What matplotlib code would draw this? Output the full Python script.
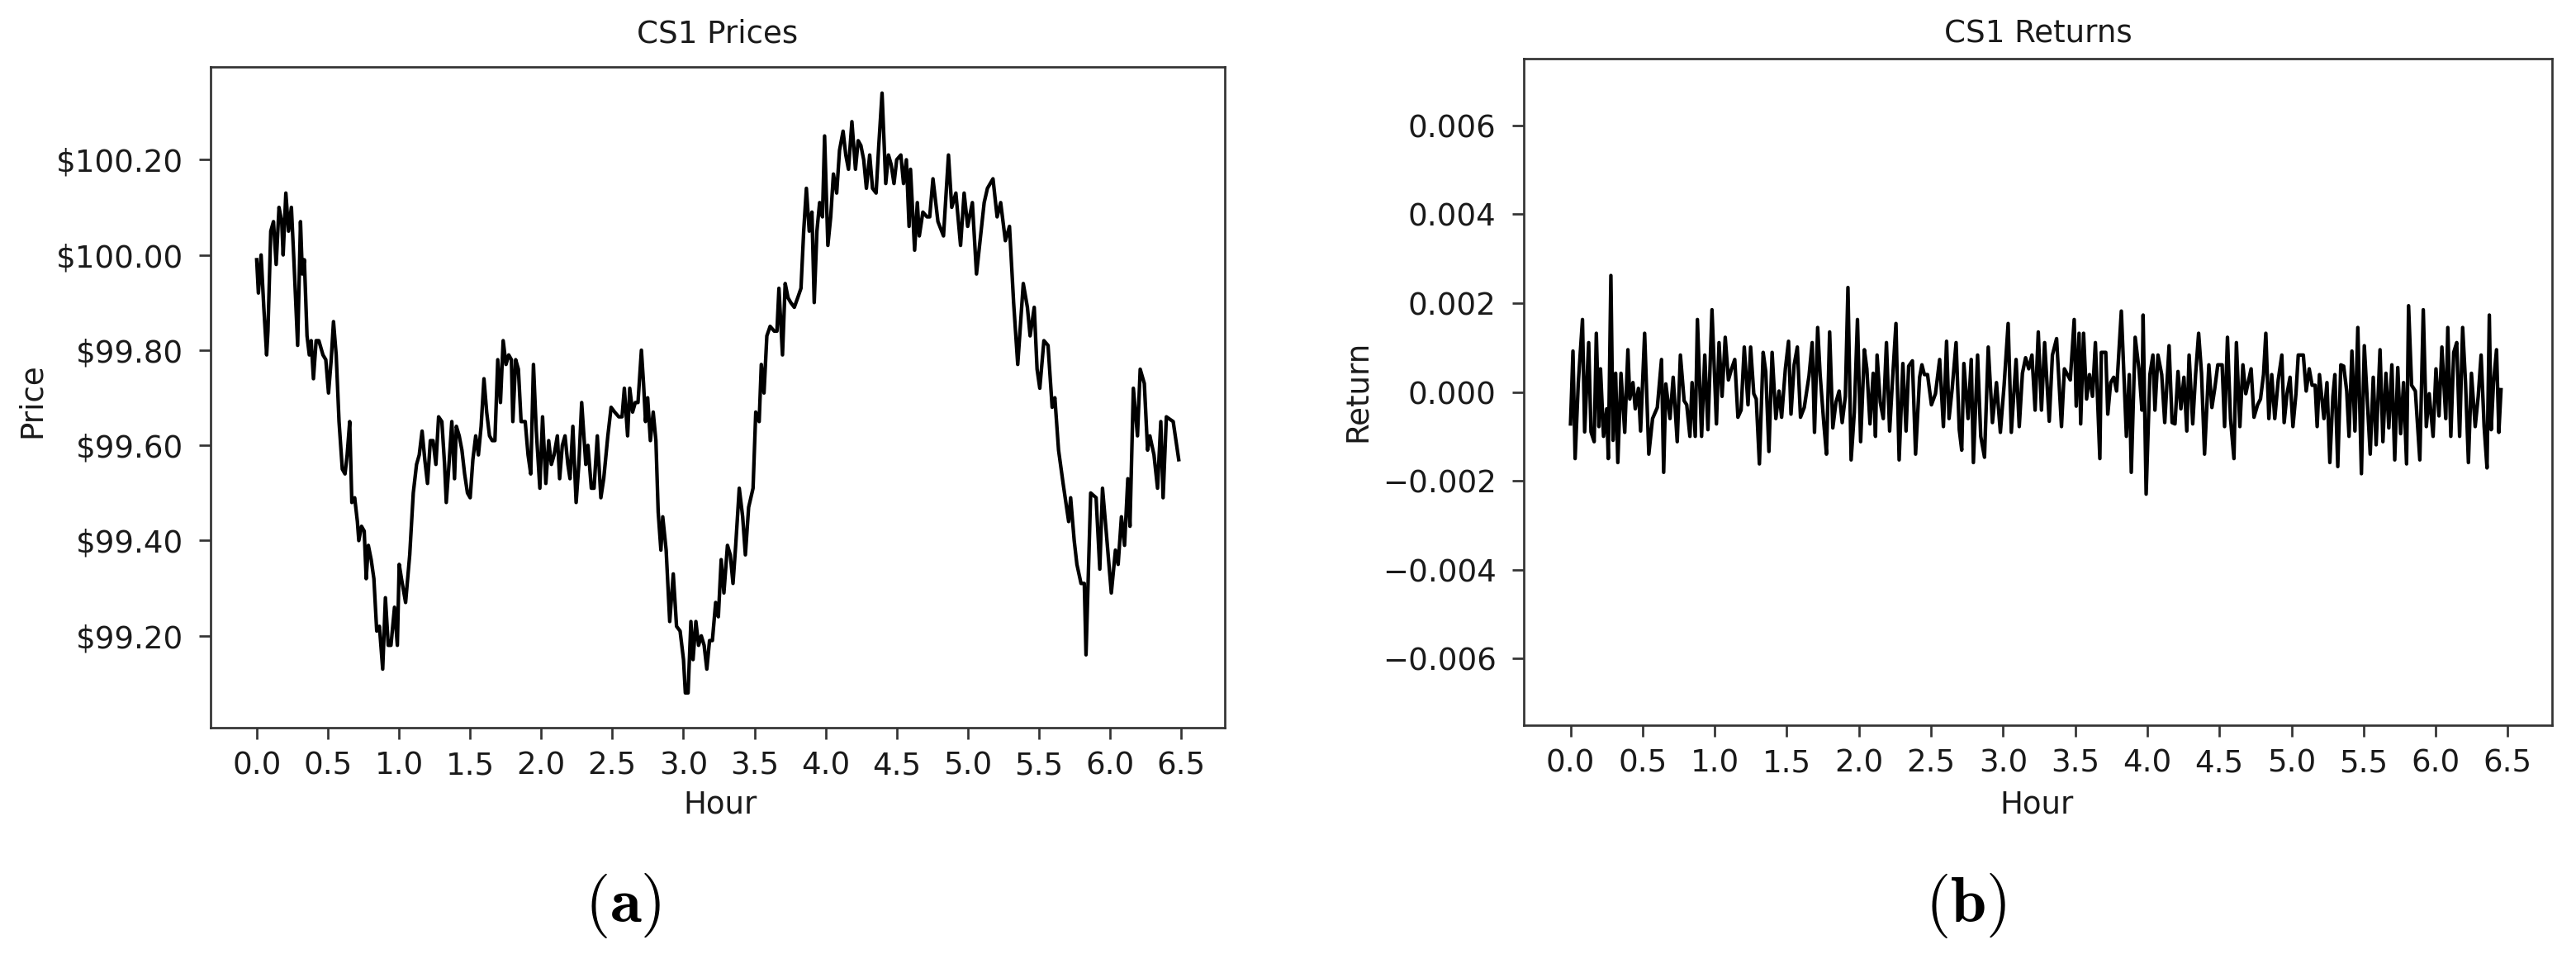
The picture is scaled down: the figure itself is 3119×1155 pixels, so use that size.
import matplotlib
matplotlib.use("Agg")
import matplotlib.pyplot as plt
from matplotlib.ticker import MultipleLocator, StrMethodFormatter

# ---- data (hour of session, price in $) ----
price_hours = [
    0.000, 0.012, 0.031, 0.050, 0.070, 0.079, 0.099, 0.118, 0.137, 0.157,
    0.176, 0.186, 0.205, 0.224, 0.244, 0.263, 0.288, 0.308, 0.321, 0.335,
    0.354, 0.370, 0.383, 0.399, 0.418, 0.437, 0.466, 0.486, 0.505, 0.524,
    0.540, 0.559, 0.579, 0.602, 0.621, 0.636, 0.654, 0.669, 0.689, 0.708,
    0.718, 0.737, 0.756, 0.770, 0.785, 0.805, 0.824, 0.844, 0.863, 0.886,
    0.905, 0.925, 0.944, 0.969, 0.989, 1.002, 1.018, 1.047, 1.076, 1.101,
    1.124, 1.143, 1.163, 1.182, 1.201, 1.221, 1.240, 1.260, 1.279, 1.302,
    1.321, 1.333, 1.352, 1.372, 1.391, 1.404, 1.424, 1.443, 1.462, 1.482,
    1.501, 1.520, 1.540, 1.559, 1.578, 1.598, 1.617, 1.637, 1.656, 1.675,
    1.695, 1.714, 1.733, 1.753, 1.772, 1.791, 1.801, 1.821, 1.840, 1.859,
    1.888, 1.908, 1.927, 1.946, 1.966, 1.991, 2.010, 2.033, 2.053, 2.072,
    2.091, 2.114, 2.130, 2.149, 2.168, 2.188, 2.203, 2.223, 2.246, 2.265,
    2.285,
    2.314, 2.329, 2.353, 2.372, 2.395, 2.420, 2.440, 2.469, 2.492, 2.517,
    2.546, 2.569, 2.585, 2.608, 2.623, 2.643, 2.662, 2.681, 2.705, 2.720,
    2.734, 2.749, 2.768, 2.788, 2.807, 2.823, 2.842, 2.855, 2.879, 2.904,
    2.929, 2.952, 2.977, 3.001, 3.014, 3.033, 3.053, 3.068, 3.088, 3.107,
    3.126, 3.146, 3.165, 3.184, 3.204, 3.227, 3.246, 3.266, 3.285, 3.310,
    3.330, 3.349, 3.368, 3.393, 3.417, 3.436, 3.459, 3.490, 3.509, 3.533,
    3.548, 3.567, 3.587, 3.610, 3.639, 3.658, 3.672, 3.697, 3.716, 3.736,
    3.755, 3.780, 3.804, 3.827, 3.846, 3.865, 3.885, 3.904, 3.920, 3.939,
    3.958, 3.978, 3.993, 4.016, 4.036, 4.055, 4.078, 4.098, 4.123, 4.142,
    4.161, 4.185, 4.210, 4.229, 4.248, 4.268, 4.287, 4.310, 4.330, 4.355,
    4.374, 4.397, 4.423, 4.442, 4.461, 4.481, 4.500, 4.529, 4.548, 4.568,
    4.587,
    4.597, 4.626, 4.645, 4.659, 4.684, 4.713, 4.732, 4.755, 4.790, 4.829,
    4.864, 4.887, 4.916, 4.949, 4.974, 4.999, 5.032, 5.061, 5.090, 5.115,
    5.138, 5.177, 5.206, 5.231, 5.264, 5.293, 5.322, 5.351, 5.390, 5.419,
    5.438, 5.467, 5.487, 5.506, 5.535, 5.564, 5.593, 5.612, 5.638, 5.670,
    5.709, 5.723, 5.748, 5.767, 5.796, 5.819, 5.831, 5.864, 5.902, 5.928,
    5.947, 5.970, 6.009, 6.038, 6.057, 6.080, 6.102, 6.125, 6.140, 6.164,
    6.193, 6.212, 6.241, 6.264, 6.280, 6.309, 6.334, 6.357, 6.373, 6.396,
    6.444, 6.483,
]
price_values = [
    99.99, 99.92, 100.00, 99.89, 99.79, 99.84, 100.05, 100.07, 99.98, 100.10,
    100.07, 100.00, 100.13, 100.05, 100.10, 99.98, 99.81, 100.07, 99.96, 99.99,
    99.83, 99.79, 99.82, 99.74, 99.82, 99.82, 99.79, 99.78, 99.71, 99.78,
    99.86, 99.79, 99.65, 99.55, 99.54, 99.58, 99.65, 99.48, 99.49, 99.44,
    99.40, 99.43, 99.42, 99.32, 99.39, 99.36, 99.32, 99.21, 99.22, 99.13,
    99.28, 99.18, 99.18, 99.26, 99.18, 99.35, 99.32, 99.27, 99.37, 99.50,
    99.56, 99.58, 99.63, 99.57, 99.52, 99.61, 99.61, 99.56, 99.66, 99.65,
    99.56, 99.48, 99.56, 99.65, 99.53, 99.64, 99.62, 99.59, 99.54, 99.50,
    99.49, 99.57, 99.62, 99.58, 99.64, 99.74, 99.67, 99.62, 99.61, 99.61,
    99.78, 99.69, 99.82, 99.77, 99.79, 99.78, 99.65, 99.78, 99.76, 99.65,
    99.65, 99.58, 99.54, 99.77, 99.63, 99.51, 99.66, 99.52, 99.61, 99.56,
    99.58, 99.62, 99.53, 99.60, 99.62, 99.56, 99.53, 99.64, 99.48, 99.56,
    99.69,
    99.56, 99.60, 99.51, 99.51, 99.62, 99.49, 99.53, 99.62, 99.68, 99.67,
    99.66, 99.66, 99.72, 99.62, 99.72, 99.67, 99.69, 99.69, 99.80, 99.73,
    99.65, 99.70, 99.61, 99.67, 99.61, 99.46, 99.38, 99.45, 99.38, 99.23,
    99.33, 99.22, 99.21, 99.15, 99.08, 99.08, 99.23, 99.15, 99.23, 99.18,
    99.20, 99.18, 99.13, 99.19, 99.19, 99.27, 99.24, 99.36, 99.29, 99.39,
    99.37, 99.31, 99.39, 99.51, 99.45, 99.37, 99.47, 99.51, 99.67, 99.65,
    99.77, 99.71, 99.83, 99.85, 99.84, 99.84, 99.93, 99.79, 99.94, 99.91,
    99.90, 99.89, 99.91, 99.93, 100.05, 100.14, 100.05, 100.09, 99.90, 100.05,
    100.11, 100.08, 100.25, 100.02, 100.08, 100.17, 100.13, 100.22, 100.26, 100.21,
    100.18, 100.28, 100.18, 100.24, 100.23, 100.20, 100.14, 100.21, 100.14, 100.13,
    100.23, 100.34, 100.15, 100.21, 100.19, 100.15, 100.20, 100.21, 100.15, 100.20,
    100.06,
    100.18, 100.01, 100.11, 100.04, 100.09, 100.08, 100.08, 100.16, 100.07, 100.04,
    100.21, 100.10, 100.13, 100.02, 100.13, 100.06, 100.11, 99.96, 100.04, 100.11,
    100.14, 100.16, 100.08, 100.11, 100.03, 100.06, 99.90, 99.77, 99.94, 99.89,
    99.83, 99.89, 99.76, 99.72, 99.82, 99.81, 99.68, 99.70, 99.59, 99.52,
    99.44, 99.49, 99.40, 99.35, 99.31, 99.31, 99.16, 99.50, 99.49, 99.34,
    99.51, 99.43, 99.29, 99.38, 99.35, 99.45, 99.39, 99.53, 99.43, 99.72,
    99.62, 99.76, 99.73, 99.59, 99.62, 99.58, 99.51, 99.65, 99.49, 99.66,
    99.65, 99.57,
]

# minute returns, in thousandths
return_hours = [
    0.000, 0.017, 0.032, 0.054, 0.083, 0.098, 0.126, 0.142, 0.164, 0.179,
    0.197, 0.208, 0.229, 0.251, 0.262, 0.280, 0.295, 0.313, 0.328, 0.350,
    0.376, 0.398, 0.411, 0.433, 0.449, 0.471, 0.486, 0.514, 0.543, 0.569,
    0.602, 0.631, 0.646, 0.661, 0.690, 0.712, 0.740, 0.762, 0.788, 0.806,
    0.828, 0.843, 0.865, 0.880, 0.909, 0.931, 0.953, 0.981, 1.012, 1.030,
    1.051, 1.073, 1.095, 1.117, 1.139, 1.161, 1.183, 1.205, 1.231, 1.249,
    1.271, 1.288, 1.310, 1.336, 1.354, 1.376, 1.398, 1.424, 1.446, 1.464,
    1.490, 1.512, 1.529, 1.551, 1.573, 1.595, 1.621, 1.654, 1.676, 1.692,
    1.714, 1.731, 1.757, 1.775, 1.797, 1.819, 1.841, 1.863, 1.884, 1.906,
    1.924, 1.946, 1.968, 1.990, 2.012, 2.038, 2.055, 2.077, 2.099, 2.115,
    2.126, 2.148, 2.169, 2.191, 2.213, 2.231, 2.257, 2.279, 2.305, 2.327,
    2.345, 2.371, 2.393, 2.421, 2.437, 2.454, 2.476, 2.503, 2.531, 2.560,
    2.586, 2.608, 2.625, 2.647, 2.674, 2.696, 2.713, 2.728, 2.757, 2.779,
    2.794, 2.823, 2.845, 2.871, 2.897, 2.926, 2.954, 2.981, 3.007, 3.035,
    3.057, 3.090, 3.112, 3.134, 3.156, 3.178, 3.200, 3.222, 3.244, 3.266,
    3.288, 3.320, 3.342, 3.371,
    3.405, 3.425, 3.466, 3.493, 3.507, 3.527, 3.538, 3.558, 3.579, 3.599,
    3.620, 3.640, 3.671, 3.681, 3.712, 3.726, 3.746, 3.767, 3.787, 3.820,
    3.855, 3.875, 3.889, 3.916, 3.943, 3.963, 3.971, 3.992, 4.018, 4.039,
    4.053, 4.074, 4.100, 4.121, 4.151, 4.172, 4.192, 4.213, 4.233, 4.254,
    4.274, 4.290, 4.315, 4.335, 4.356, 4.376, 4.397, 4.427, 4.448, 4.468,
    4.489, 4.519, 4.536, 4.556, 4.577, 4.601, 4.618, 4.642, 4.663, 4.683,
    4.720, 4.740, 4.765, 4.785, 4.806, 4.822, 4.843, 4.863, 4.884, 4.908,
    4.933, 4.949, 4.969, 4.990, 5.010, 5.031, 5.047, 5.082, 5.102, 5.123,
    5.143, 5.164, 5.178, 5.194, 5.225, 5.246, 5.266, 5.287, 5.301, 5.321,
    5.342, 5.362, 5.383, 5.399, 5.419, 5.440, 5.460, 5.485, 5.505, 5.522,
    5.546, 5.567, 5.587, 5.614, 5.634, 5.655, 5.675, 5.696, 5.716, 5.737,
    5.757, 5.777, 5.798, 5.812, 5.833, 5.859, 5.890, 5.914, 5.935, 5.955,
    5.982, 6.002, 6.023, 6.043, 6.070, 6.084, 6.105, 6.125, 6.146, 6.166,
    6.187, 6.207, 6.227, 6.248, 6.274, 6.295, 6.315, 6.336, 6.356, 6.372,
    6.385, 6.401, 6.422, 6.438, 6.453,
]
return_values = [
    -0.72, 0.92, -1.50, 0.21, 1.63, -0.90, 1.11, -0.90, -1.12, 1.32,
    -0.78, 0.52, -1.00, -0.38, -1.50, 2.62, -1.09, 0.42, -1.59, 0.42,
    -0.91, 0.95, -0.16, 0.21, -0.38, 0.08, -0.88, 1.32, -1.40, -0.60,
    -0.35, 0.73, -1.81, 0.18, -0.60, 0.33, -1.12, 0.83, -0.20, -0.29,
    -1.00, 0.21, -1.00, 1.63, -1.00, 0.83, -0.85, 1.85, -0.72, 1.11,
    -0.10, 1.23, 0.27, 0.52, 0.73, -0.57, -0.41, 1.01, -0.29, 1.01,
    -0.04, -0.16, -1.62, 0.89, 0.46, -1.34, 0.89, -0.60, 0.02, -0.57,
    0.52, 1.14, -0.50, 0.61, 1.01, -0.57, -0.35, 0.36, 1.11, -0.91,
    1.45, 0.39, -0.72, -1.40, 1.35, -0.81, -0.23, 0.02, -0.69, -0.10,
    2.35, -1.53, -0.47, 1.63, -1.12, 0.95, 0.52, -0.72, 0.42, -1.00,
    0.83, -0.23, -0.60, 1.11, -0.88, 0.15, 1.54, -1.53, 0.64, -0.88,
    0.58, 0.70, -1.40, 0.33, 0.61, 0.39, 0.39, -0.29, -0.04, 0.73,
    -0.78, 1.14, -0.60, 0.08, 1.11, -0.85, -1.31, 0.64, -0.60, 0.73,
    -1.59, 0.83, -1.00, -1.47, 1.01, -0.69, 0.21, -0.91, 0.15, 1.54,
    -0.91, 0.73, -0.78, 0.42, 0.77, 0.52, 0.83, -0.41, 1.35, -0.41,
    1.11, -0.66, 0.83, 1.20,
    -0.78, 0.52, 0.27, 1.63, -0.32, 1.32, -0.72, 1.32, -0.16, 0.39,
    -0.10, 1.11, -1.50, 0.89, 0.89, -0.50, 0.21, 0.33, 0.02, 1.82,
    -1.00, 0.39, -1.81, 1.23, 0.49, -0.41, 1.73, -2.30, 0.39, 0.83,
    -0.41, 0.83, 0.39, -0.69, 1.04, -0.69, -0.72, 0.46, -0.38, 0.33,
    -0.88, 0.83, -0.72, 0.39, 1.32, 0.42, -1.40, 0.61, -0.35, 0.08,
    0.61, 0.61, -0.78, 1.23, -0.60, -1.50, 1.11, -0.78, 0.61, -0.04,
    0.52, -0.57, -0.29, -0.16, 0.39, 1.32, -0.60, 0.39, -0.60, 0.27,
    0.83, -0.69, -0.04, 0.33, -0.78, -0.04, 0.83, 0.83, 0.02, 0.52,
    0.15, 0.15, -0.78, 0.39, -0.60, 0.21, -1.59, -0.10, 0.39, -1.68,
    0.61, 0.58, 0.02, -1.00, 0.92, -0.88, 1.45, -1.84, 1.04, 0.02,
    -1.40, 0.33, -1.19, 0.95, -1.12, 0.42, -0.81, 0.61, -1.53, 0.55,
    -0.94, 0.21, -1.62, 1.94, 0.15, 0.02, -1.53, 1.85, -0.78, -0.04,
    -1.00, 0.52, -0.54, 1.01, -0.60, 1.45, -1.00, 0.89, 1.11, -1.00,
    1.45, 0.21, -1.59, 0.42, -0.78, -0.10, 0.83, -0.78, -1.71, 1.73,
    -0.85, 0.21, 0.95, -0.91, 0.05,
]

hour_ticks = [0.0, 0.5, 1.0, 1.5, 2.0, 2.5, 3.0, 3.5, 4.0, 4.5, 5.0, 5.5, 6.0, 6.5]

# ---- style ----
FS = 26.7
INK = "#1a1a1a"
FRAME = "#333333"
plt.rcParams["font.family"] = ["DejaVu Sans"]
plt.rcParams["mathtext.fontset"] = "cm"
plt.rcParams["text.color"] = INK

W, H = 3119, 1155
fig = plt.figure(figsize=(W / 100, H / 100), dpi=100)

# axes boxes in pixels: left, top, right, bottom
boxes = [(255, 81, 1483, 881), (1845, 71, 3090, 878)]
axes = []
for l, t, r, b in boxes:
    ax = fig.add_axes([l / W, 1 - b / H, (r - l) / W, (b - t) / H])
    for s in ax.spines.values():
        s.set_linewidth(1.95)
        s.set_color(FRAME)
    ax.tick_params(axis="both", length=10, width=1.95, color=FRAME,
                   labelsize=FS, labelcolor=INK)
    ax.tick_params(axis="x", pad=10)
    ax.tick_params(axis="y", pad=14)
    ax.set_xticks(hour_ticks)
    ax.set_xlim(-0.324, 6.807)
    axes.append(ax)

ax1, ax2 = axes

ax1.plot(price_hours, price_values, color="black", lw=3.1)
ax1.set_ylim(99.007, 100.395)
ax1.yaxis.set_major_locator(MultipleLocator(0.2))
ax1.yaxis.set_major_formatter(StrMethodFormatter("${x:,.2f}"))
ax1.set_title("CS1 Prices", fontsize=FS, pad=21)

ret = [v * 1e-3 for v in return_values]
ax2.plot(return_hours, ret, color="black", lw=3.1)
ax2.set_ylim(-0.0075, 0.0075)
ax2.yaxis.set_major_locator(MultipleLocator(0.002))
ax2.set_title("CS1 Returns", fontsize=FS, pad=13.7)

# axis labels
fig.text(872 / W, 1 - 974 / H, "Hour", fontsize=FS, ha="center", va="center")
fig.text(2466 / W, 1 - 974 / H, "Hour", fontsize=FS, ha="center", va="center")
fig.text(38 / W, 1 - 485 / H, "Price", fontsize=FS, rotation=90,
         ha="center", va="center")
fig.text(1643 / W, 1 - 473 / H, "Return", fontsize=FS, rotation=90,
         ha="center", va="center")

# panel letters
fig.text(754 / W, 1 - 1097 / H, r"$(\mathbf{a})$", fontsize=56,
         ha="center", va="center", color="black")
fig.text(2380 / W, 1 - 1097 / H, r"$(\mathbf{b})$", fontsize=56,
         ha="center", va="center", color="black")

fig.savefig("out.png", dpi=100, facecolor="white")
